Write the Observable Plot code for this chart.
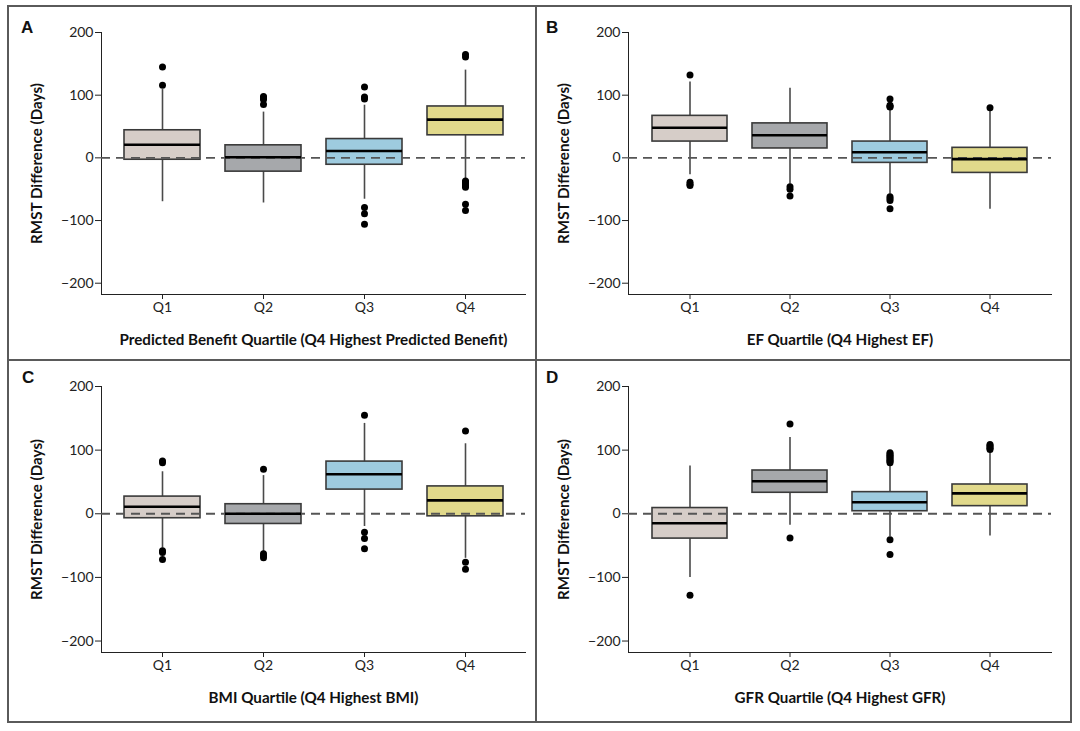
<!DOCTYPE html>
<html>
<head>
<meta charset="utf-8">
<script src="https://cdn.jsdelivr.net/npm/d3@7"></script>
<script src="https://cdn.jsdelivr.net/npm/@observablehq/plot@0.6"></script>
<style>
  html, body { margin: 0; padding: 0; background: #fff; }
  #root { position: relative; width: 1080px; height: 731px; background: #fff; overflow: hidden; }
  .line { position: absolute; background: #5a5a5a; }
  .panel { position: absolute; }
  .letter { position: absolute; font-family: "Liberation Sans", Arial, sans-serif; font-weight: bold; font-size: 17px; color: #111; line-height: 1; }
</style>
</head>
<body>
<div id="root"></div>
<script>
// ---------- DATA ----------
const quartiles = ["Q1", "Q2", "Q3", "Q4"];
const yTicks = [-200, -100, 0, 100, 200];
const yLabel = "RMST Difference (Days)";
const panelLetters = ["A", "B", "C", "D"];
const xLabels = [
  "Predicted Benefit Quartile (Q4 Highest Predicted Benefit)",
  "EF Quartile (Q4 Highest EF)",
  "BMI Quartile (Q4 Highest BMI)",
  "GFR Quartile (Q4 Highest GFR)"
];

// Panel A – predicted benefit
const aWhiskerLow  = [-70, -72, -66, -33];
const aBoxLow      = [-3, -22, -11, 36];
const aMedian      = [21, 1, 11, 61];
const aBoxHigh     = [44, 20, 30, 82];
const aWhiskerHigh = [109, 73, 84, 140];
const aOutliers    = [[145, 116], [98, 96, 93, 85], [113, 97, 94, -79, -89, -106], [165, 161, -37, -39, -41, -43, -45, -47, -74, -84]];

// Panel B – EF
const bWhiskerLow  = [-27, -42, -58, -82];
const bBoxLow      = [26, 15, -8, -24];
const bMedian      = [48, 36, 9, -2];
const bBoxHigh     = [67, 55, 26, 16];
const bWhiskerHigh = [121, 111, 78, 78];
const bOutliers    = [[132, -39, -42, -44], [-46, -50, -61], [94, 84, 82, 81, -62, -65, -68, -81], [80]];

// Panel C – BMI
const cWhiskerLow  = [-54, -61, -20, -70];
const cBoxLow      = [-7, -16, 38, -4];
const cMedian      = [11, 0, 62, 21];
const cBoxHigh     = [27, 15, 82, 43];
const cWhiskerHigh = [66, 60, 142, 110];
const cOutliers    = [[83, 80, -58, -61, -72], [70, -63, -66, -69], [155, -29, -39, -55], [130, -76, -87]];

// Panel D – GFR
const dWhiskerLow  = [-100, -18, -36, -35];
const dBoxLow      = [-39, 33, 4, 12];
const dMedian      = [-15, 51, 18, 32];
const dBoxHigh     = [9, 68, 34, 46];
const dWhiskerHigh = [75, 120, 79, 96];
const dOutliers    = [[-128], [141, -38], [96, 94, 92, 90, 88, 86, 84, 82, 80, -41, -64], [109, 107, 105, 103, 101]];

// ---------- STYLE / LAYOUT ----------
const boxColors = ["#d6cdc8", "#a6a8ab", "#9ecbdf", "#e1d98b"];
const layouts = [
  {left: 8,   top: 6,   width: 528, height: 354, mL: 93, mR: 11, mT: 26, mB: 66, lx: 21,  ly: 19},
  {left: 536, top: 6,   width: 535, height: 354, mL: 92, mR: 20, mT: 26, mB: 66, lx: 546, ly: 19},
  {left: 8,   top: 360, width: 528, height: 362, mL: 93, mR: 11, mT: 26, mB: 70, lx: 22,  ly: 369},
  {left: 536, top: 360, width: 535, height: 362, mL: 92, mR: 20, mT: 26, mB: 70, lx: 546, ly: 369}
];

const panelData = [
  [aWhiskerLow, aBoxLow, aMedian, aBoxHigh, aWhiskerHigh, aOutliers],
  [bWhiskerLow, bBoxLow, bMedian, bBoxHigh, bWhiskerHigh, bOutliers],
  [cWhiskerLow, cBoxLow, cMedian, cBoxHigh, cWhiskerHigh, cOutliers],
  [dWhiskerLow, dBoxLow, dMedian, dBoxHigh, dWhiskerHigh, dOutliers]
];

const root = document.getElementById("root");
function addLine(style) {
  const d = document.createElement("div");
  d.className = "line";
  Object.assign(d.style, style);
  root.appendChild(d);
}

panelData.forEach(([wl, bl, md, bh, wh, outs], p) => {
  const L = layouts[p];
  const rows = quartiles.map((q, i) => ({q, lo: wl[i], q1: bl[i], med: md[i], q3: bh[i], hi: wh[i]}));
  const dots = quartiles.flatMap((q, i) => outs[i].map(v => ({q, v})));
  const chart = Plot.plot({
    width: L.width,
    height: L.height,
    marginLeft: L.mL,
    marginRight: L.mR,
    marginTop: L.mT,
    marginBottom: L.mB,
    style: {fontFamily: "Lato, 'Open Sans', sans-serif", fontSize: "14px", color: "#222", background: "transparent", overflow: "visible"},
    x: {type: "band", domain: quartiles, paddingInner: 0.25, paddingOuter: 0.224, label: null, tickSize: 5, tickPadding: 3, line: true},
    y: {domain: [-218, 200], ticks: yTicks, label: null, tickSize: 6, tickPadding: 2, line: true},
    color: {domain: quartiles, range: boxColors},
    marks: [
      Plot.ruleX(rows, {x: "q", y1: "lo", y2: "hi", stroke: "#4a4a4a", strokeWidth: 1.6}),
      Plot.barY(rows, {x: "q", y1: "q1", y2: "q3", fill: "q", stroke: "#3a3a3a", strokeWidth: 1.6}),
      Plot.ruleY([0], {stroke: "#555", strokeWidth: 1.8, strokeDasharray: "9,6"}),
      Plot.tickY(rows, {x: "q", y: "med", stroke: "#000", strokeWidth: 2.6}),
      Plot.dot(dots, {x: "q", y: "v", r: 3.5, fill: "#000", stroke: null}),
      Plot.text([xLabels[p]], {text: d => d, frameAnchor: "bottom", dy: 46, lineAnchor: "middle", textAnchor: "middle", fontWeight: "bold", fontSize: 15.2, fill: "#111"}),
      Plot.text([yLabel], {text: d => d, frameAnchor: "left", dx: -64, rotate: -90, lineAnchor: "middle", textAnchor: "middle", fontWeight: "bold", fontSize: 15.2, fill: "#111"})
    ]
  });
  const wrap = document.createElement("div");
  wrap.className = "panel";
  wrap.style.left = L.left + "px";
  wrap.style.top = L.top + "px";
  wrap.appendChild(chart);
  root.appendChild(wrap);

  const letter = document.createElement("div");
  letter.className = "letter";
  letter.textContent = panelLetters[p];
  letter.style.left = L.lx + "px";
  letter.style.top = L.ly + "px";
  root.appendChild(letter);
});

// frame lines
addLine({left: "8px", top: "5px", width: "1064px", height: "2px"});
addLine({left: "8px", top: "721px", width: "1064px", height: "2px"});
addLine({left: "7px", top: "5px", width: "2px", height: "718px"});
addLine({left: "1070px", top: "5px", width: "2px", height: "718px"});
addLine({left: "535px", top: "5px", width: "2px", height: "718px"});
addLine({left: "8px", top: "358.5px", width: "1064px", height: "2px"});
</script>
</body>
</html>
